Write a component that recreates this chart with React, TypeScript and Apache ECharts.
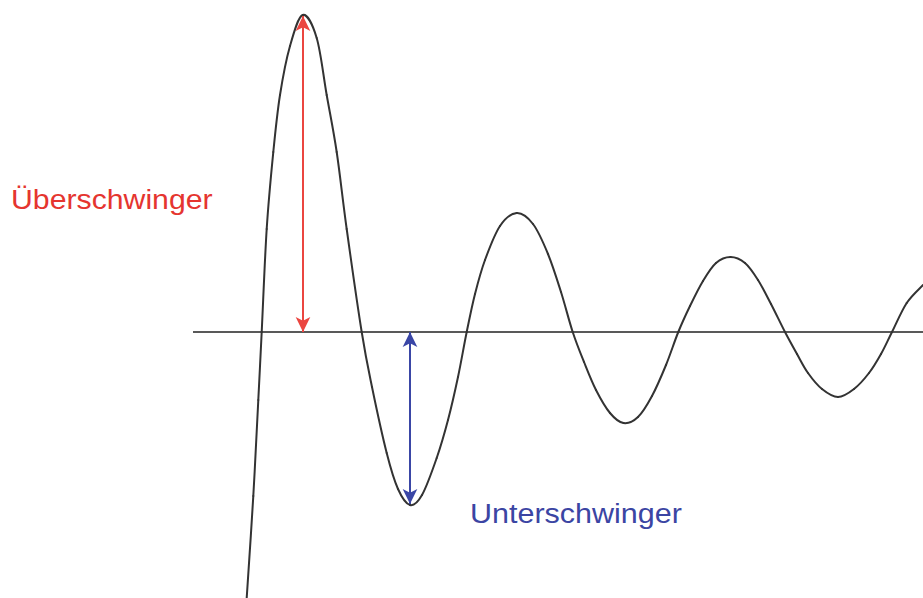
import React, { useEffect, useRef } from "react";
import * as echarts from "echarts";

// Curve points: time position and deflection from the steady-state line
const curveX = [246.7, 253.3, 258.3, 261.7, 266.7, 273.3, 280, 290, 302.7, 316.7, 326.7, 336.7, 346.7, 361.7, 372, 386.7, 398, 410, 422, 436.7, 448, 458, 466.7, 475, 485, 500, 516.7, 533, 548, 561, 572.7, 584, 596, 610, 623.5, 638, 652, 666, 678.3, 690, 703, 716, 730.5, 745, 758, 771, 785, 797, 808, 822, 838, 854, 869, 881, 892, 906.7, 923];
const curveY = [-266, -164, -68, 0, 103, 180, 237, 286, 317, 294, 237, 180, 103, 0, -55, -121, -157, -173, -163, -126, -88, -45, 0, 38, 72, 106, 119, 108, 78, 40, 0, -30, -58, -81, -91, -85, -64, -33, 0, 26, 51, 69, 75, 69, 52, 28, 0, -22, -41, -57, -65, -57, -41, -22, 0, 29, 47];

const baselineX = [193, 923];
const overshoot = { x: 303, top: 316 };
const undershoot = { x: 410, bottom: -172 };
const labels = ["Überschwinger", "Unterschwinger"];

export default function App() {
  const ref = useRef<HTMLDivElement>(null);
  useEffect(() => {
    if (!ref.current) return;
    const chart = echarts.init(ref.current, null, { renderer: "svg" });
    const curve = curveX.map((x, i) => [x, curveY[i]]);
    chart.setOption({
      animation: false,
      backgroundColor: "#ffffff",
      grid: { left: 0, right: 0, top: 0, bottom: 0 },
      xAxis: { type: "value", min: 0, max: 923, show: false },
      yAxis: { type: "value", min: -266, max: 332, show: false },
      series: [
        {
          type: "line",
          data: baselineX.map((x) => [x, 0]),
          showSymbol: false,
          lineStyle: { color: "#222", width: 1.5 },
          silent: true,
          z: 1,
        },
        {
          type: "custom",
          data: curve,
          silent: true,
          clip: false,
          z: 2,
          renderItem: (params: any, api: any) => {
            const i = params.dataIndex;
            const n = curve.length;
            if (i >= n - 1) return null;
            const p = (k: number) => api.coord(curve[Math.max(0, Math.min(n - 1, k))]);
            const p0 = p(i - 1);
            const p1 = p(i);
            const p2 = p(i + 1);
            const p3 = p(i + 2);
            return {
              type: "bezierCurve",
              shape: {
                x1: p1[0],
                y1: p1[1],
                x2: p2[0],
                y2: p2[1],
                cpx1: p1[0] + (p2[0] - p0[0]) / 6,
                cpy1: p1[1] + (p2[1] - p0[1]) / 6,
                cpx2: p2[0] - (p3[0] - p1[0]) / 6,
                cpy2: p2[1] - (p3[1] - p1[1]) / 6,
              },
              style: { stroke: "#333", lineWidth: 2, fill: null, lineCap: "round" },
            };
          },
        },
        {
          type: "line",
          data: [],
          markLine: {
            silent: true,
            symbol: ["arrow", "arrow"],
            symbolSize: [11, 15],
            label: { show: false },
            animation: false,
            data: [
              [
                { coord: [overshoot.x, 0], lineStyle: { color: "#eb4640", width: 2, type: "solid" }, itemStyle: { color: "#eb4640" } },
                { coord: [overshoot.x, overshoot.top] },
              ],
              [
                { coord: [undershoot.x, 0], lineStyle: { color: "#3a46a6", width: 2, type: "solid" }, itemStyle: { color: "#3a46a6" } },
                { coord: [undershoot.x, undershoot.bottom] },
              ],
            ],
          },
          z: 3,
        },
      ],
      graphic: [
        {
          type: "text",
          x: 11,
          y: 200,
          scaleX: 1.12,
          style: {
            text: labels[0],
            fill: "#e5352f",
            font: "27px 'Liberation Sans', Arial, sans-serif",
            align: "left",
            verticalAlign: "middle",
          },
        },
        {
          type: "text",
          x: 470,
          y: 514,
          scaleX: 1.13,
          style: {
            text: labels[1],
            fill: "#3b45a3",
            font: "27px 'Liberation Sans', Arial, sans-serif",
            align: "left",
            verticalAlign: "middle",
          },
        },
      ],
    });
    return () => chart.dispose();
  }, []);
  return (
    <div
      ref={ref}
      style={{ position: "fixed", left: 0, top: 0, width: 923, height: 598, background: "#fff" }}
    />
  );
}
